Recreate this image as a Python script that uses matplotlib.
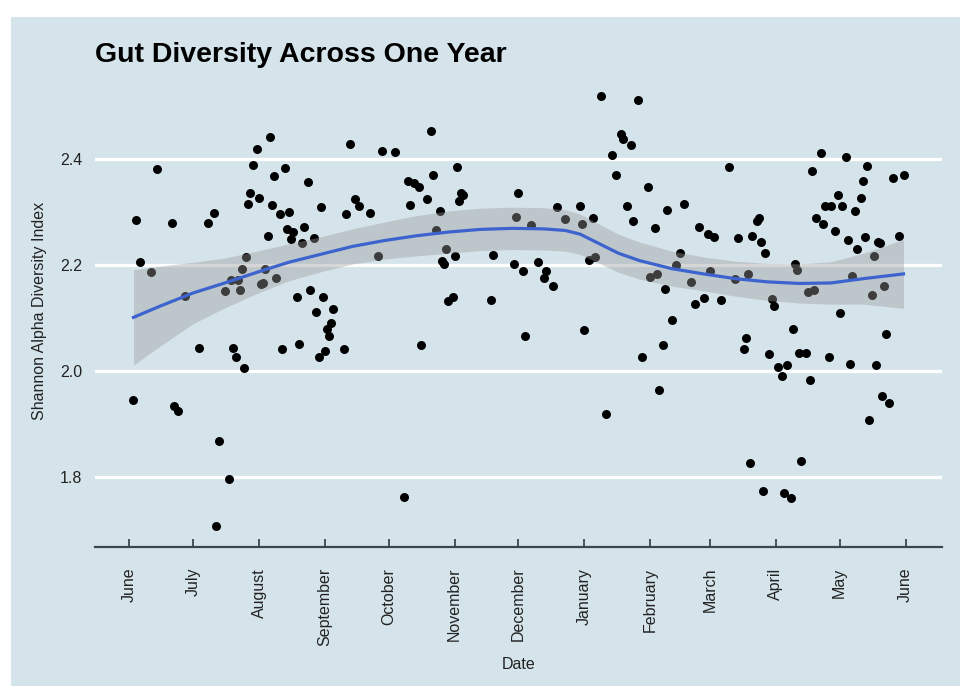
"""
Shannon alpha diversity of gut samples over one year, with a smoothed trend.
"""
import numpy as np
import pandas as pd
import matplotlib
matplotlib.use('Agg')
import matplotlib.pyplot as plt
from matplotlib.patches import Rectangle

plt.rcParams['font.family'] = ['Liberation Sans', 'DejaVu Sans']

# sampling day, counted from 1 June
start_date = '2016-06-01'
sample_day = [
    66, 60, 13, 58, 73, 68, 84, 57, 61, 56, 67, 3, 20, 40, 37, 71, 75, 74, 77, 76,
    82, 81, 65, 5, 10, 55, 53, 64, 48, 51, 45, 52, 62, 63, 69, 26, 79, 85, 33, 49,
    50, 54, 72, 80, 2, 21, 23, 42, 47, 41,
    142, 104, 119, 125, 154, 143, 131, 134, 136, 106, 108, 90, 102, 113, 132, 140, 146, 156, 157, 155,
    183, 87, 144, 117, 149, 153, 147, 148, 171, 181, 182, 91, 88, 96, 95, 93, 94, 92, 89, 101,
    150, 152, 170, 137, 129, 186,
    222, 239, 231, 232, 236, 227, 229, 244, 282, 201, 212, 234, 253, 261, 237, 247, 268, 272, 275, 189,
    205, 213, 218, 185, 192, 196, 195, 199, 216, 219, 259, 257, 245, 248, 264, 273, 252, 266, 270, 278,
    255, 214, 251, 241, 249, 224,
    325, 337, 321, 347, 345, 359, 364, 333, 327, 330, 335, 344, 341, 296, 295, 323, 326, 332, 286, 293,
    297, 299, 338, 346, 342, 352, 353, 362, 350, 313, 314, 285, 291, 340, 319, 322, 349, 355, 302, 303,
    334, 312, 290, 289, 301, 315, 318, 305, 309, 307, 320, 329, 339, 351, 356, 354, 357, 348, 292, 316,
    298, 308, 311,
]
shannon = [
    2.442, 2.419, 2.381, 2.388, 2.382, 2.368, 2.357, 2.335, 2.327, 2.315, 2.313, 2.285, 2.279, 2.298, 2.279, 2.296, 2.299, 2.268, 2.262, 2.248,
    2.272, 2.241, 2.255, 2.205, 2.186, 2.214, 2.192, 2.192, 2.172, 2.172, 2.151, 2.152, 2.164, 2.165, 2.175, 2.142, 2.140, 2.153, 2.043, 2.043,
    2.026, 2.005, 2.041, 2.050, 1.945, 1.933, 1.925, 1.868, 1.796, 1.708,
    2.453, 2.428, 2.415, 2.414, 2.384, 2.369, 2.358, 2.354, 2.348, 2.325, 2.312, 2.309, 2.296, 2.298, 2.313, 2.324, 2.302, 2.336, 2.332, 2.321,
    2.335, 2.250, 2.265, 2.217, 2.230, 2.217, 2.208, 2.201, 2.219, 2.201, 2.291, 2.140, 2.112, 2.116, 2.090, 2.079, 2.065, 2.038, 2.027, 2.042,
    2.131, 2.140, 2.133, 2.048, 1.761, 2.066,
    2.518, 2.511, 2.448, 2.437, 2.426, 2.408, 2.369, 2.347, 2.384, 2.310, 2.311, 2.311, 2.304, 2.315, 2.282, 2.269, 2.272, 2.258, 2.253, 2.275,
    2.287, 2.277, 2.288, 2.189, 2.206, 2.189, 2.175, 2.160, 2.209, 2.214, 2.222, 2.200, 2.178, 2.182, 2.168, 2.189, 2.154, 2.126, 2.138, 2.133,
    2.096, 2.077, 2.049, 2.027, 1.964, 1.918,
    2.412, 2.403, 2.378, 2.387, 2.358, 2.365, 2.369, 2.332, 2.311, 2.311, 2.311, 2.326, 2.301, 2.289, 2.282, 2.288, 2.277, 2.264, 2.250, 2.255,
    2.244, 2.222, 2.247, 2.252, 2.230, 2.243, 2.241, 2.255, 2.217, 2.201, 2.191, 2.173, 2.182, 2.179, 2.149, 2.153, 2.144, 2.160, 2.135, 2.123,
    2.109, 2.079, 2.062, 2.042, 2.032, 2.033, 2.033, 2.007, 2.011, 1.991, 1.983, 2.027, 2.013, 2.011, 2.069, 1.952, 1.939, 1.908, 1.826, 1.829,
    1.774, 1.770, 1.760,
]

# smoothed trend with its confidence band
fit_day = [2, 15, 30, 45, 60, 75, 90, 105, 120, 135, 150, 165, 180, 195,
           205, 212, 220, 230, 240, 255, 270, 285, 300, 315, 330, 345, 364]
fit_value = [2.101, 2.123, 2.147, 2.166, 2.186, 2.205, 2.220, 2.235, 2.246, 2.255,
             2.262, 2.267, 2.269, 2.268, 2.265, 2.258, 2.242, 2.222, 2.208, 2.193,
             2.183, 2.174, 2.168, 2.165, 2.166, 2.174, 2.183]
fit_lower = [2.011, 2.048, 2.089, 2.119, 2.146, 2.170, 2.187, 2.202, 2.211, 2.217,
             2.222, 2.227, 2.229, 2.228, 2.226, 2.220, 2.205, 2.186, 2.173, 2.160,
             2.151, 2.141, 2.133, 2.128, 2.126, 2.126, 2.118]
fit_upper = [2.191, 2.198, 2.205, 2.213, 2.226, 2.240, 2.253, 2.268, 2.281, 2.293,
             2.302, 2.307, 2.309, 2.308, 2.304, 2.296, 2.279, 2.258, 2.243, 2.226,
             2.215, 2.207, 2.203, 2.202, 2.206, 2.222, 2.248]

y_ticks = [1.8, 2.0, 2.2, 2.4]

BG = '#d5e4eb'
start = pd.Timestamp(start_date)


def to_dates(days):
    return (start + pd.to_timedelta(np.asarray(days), unit='D')).to_numpy()


fig = plt.figure(figsize=(9.76, 6.86), dpi=100, facecolor='white')
# light panel behind everything, leaving a thin white border
fig.patches.append(Rectangle((11 / 976, 0), (960 - 11) / 976, (686 - 17) / 686,
                             transform=fig.transFigure, facecolor=BG,
                             edgecolor='none', zorder=-10))

ax = fig.add_axes([95 / 976, 139 / 686, 847 / 976, 472 / 686])
ax.set_zorder(1)
ax.set_facecolor(BG)

ax.scatter(to_dates(sample_day), shannon, s=42, color='black', linewidths=0, zorder=3)
ax.fill_between(to_dates(fit_day), fit_lower, fit_upper, color='#999999',
                alpha=0.4, linewidth=0, zorder=4)
ax.plot(to_dates(fit_day), fit_value, color='#3d63cf', linewidth=2.3, zorder=5)

# 5% padding around the data, both axes
d_min, d_max = min(sample_day), max(sample_day)
d_pad = 0.05 * (d_max - d_min)
ax.set_xlim(to_dates([d_min - d_pad])[0], to_dates([d_max + d_pad])[0])
v_min, v_max = min(shannon), max(shannon)
v_pad = 0.05 * (v_max - v_min)
ax.set_ylim(v_min - v_pad, v_max + v_pad)

months = pd.date_range(start, start + pd.DateOffset(years=1), freq='MS')
ax.set_xticks(months.to_numpy())
ax.set_xticklabels(months.strftime('%B'), rotation=90, va='top', ha='center',
                   fontsize=11.5, color='#222222')
ax.tick_params(axis='x', direction='in', length=6, width=1.3, color='#3c474d', pad=15)

ax.set_yticks(y_ticks)
ax.set_yticklabels([f'{t:.1f}' for t in y_ticks], fontsize=11.5, color='#222222')
ax.tick_params(axis='y', length=0, pad=9)
ax.grid(axis='y', color='white', linewidth=2.3)
ax.set_axisbelow(True)

for side in ['left', 'right', 'top']:
    ax.spines[side].set_visible(False)
ax.spines['bottom'].set_color('#3c474d')
ax.spines['bottom'].set_linewidth(1.6)

ax.set_ylabel('Shannon Alpha Diversity Index', fontsize=11.5, color='#222222')
ax.yaxis.set_label_coords(-0.057, 0.5)
ax.set_xlabel('Date', fontsize=11.5, color='#222222')
ax.xaxis.set_label_coords(0.5, -0.232)

fig.text(95 / 976, 1 - 62 / 686, 'Gut Diversity Across One Year', fontsize=20.5,
         fontweight='bold', ha='left', va='baseline', color='black')

fig.savefig('out.png', dpi=100, facecolor=fig.get_facecolor())
plt.close(fig)
